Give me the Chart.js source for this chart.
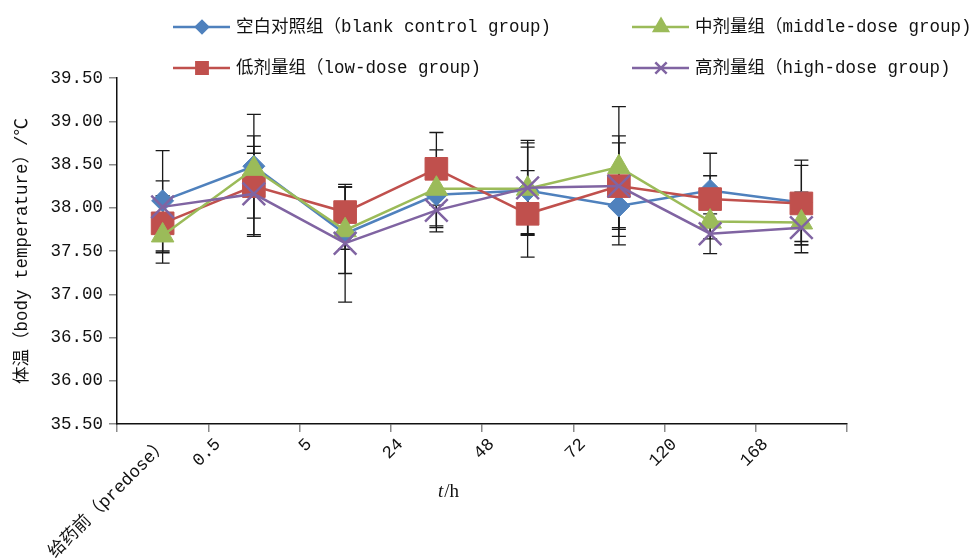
<!DOCTYPE html>
<html><head><meta charset="utf-8">
<script src="https://cdn.jsdelivr.net/npm/chart.js@4/dist/chart.umd.min.js"></script>
<style>html,body{margin:0;padding:0;background:#fff;}#wrap{position:relative;width:975px;height:560px;}</style>
</head><body><div id="wrap"><canvas id="c" width="975" height="560"></canvas></div>
<script>
// ---- data ----
const categories = ['给药前（predose）', '0.5', '5', '24', '48', '72', '120', '168'];
const seriesNames = ['空白对照组（blank control group)', '低剂量组（low-dose group)', '中剂量组（middle-dose group)', '高剂量组（high-dose group)'];
const blankMean = [38.08, 38.48, 37.70, 38.15, 38.20, 38.02, 38.20, 38.06];
const blankErr  = [0.23, 0.60, 0.18, 0.36, 0.50, 0.45, 0.43, 0.49];
const lowMean   = [37.82, 38.25, 37.95, 38.45, 37.93, 38.25, 38.10, 38.05];
const lowErr    = [0.32, 0.58, 0.29, 0.42, 0.50, 0.58, 0.27, 0.44];
const midMean   = [37.68, 38.45, 37.74, 38.22, 38.22, 38.47, 37.84, 37.83];
const midErr    = [0.20, 0.26, 0.50, 0.45, 0.53, 0.70, 0.20, 0.35];
const highMean  = [38.01, 38.16, 37.59, 37.97, 38.23, 38.25, 37.70, 37.77];
const highErr   = [0.65, 0.47, 0.68, 0.25, 0.55, 0.50, 0.23, 0.20];
const yTicks = { min: 35.5, max: 39.5, step: 0.5 };
const yTitle = '体温（body temperature）/℃';

// ---- styles ----
const FONT = '"Liberation Mono", "Noto Sans CJK SC", monospace';
const styles = [
  { color: '#4F81BD', pointStyle: 'rectRot', radius: 11, legendRadius: 6 },
  { color: '#C0504D', pointStyle: 'rect', radius: 16, legendRadius: 8 },
  { color: '#9BBB59', pointStyle: 'triangle', radius: 13, legendRadius: 8 },
  { color: '#8064A2', pointStyle: 'crossRot', radius: 16, legendRadius: 8 }
];
const means = [blankMean, lowMean, midMean, highMean];
const errs = [blankErr, lowErr, midErr, highErr];

const datasets = means.map((m, i) => ({
  label: seriesNames[i],
  data: m,
  errors: errs[i],
  borderColor: styles[i].color,
  backgroundColor: styles[i].color,
  borderWidth: 2.5,
  pointStyle: styles[i].pointStyle,
  pointRadius: styles[i].radius,
  pointHoverRadius: styles[i].radius,
  pointBackgroundColor: styles[i].color,
  pointBorderColor: styles[i].color,
  pointBorderWidth: styles[i].pointStyle === 'crossRot' ? 2.5 : 1,
  tension: 0,
  order: 4 - i
}));

const errorBars = {
  id: 'errorBars',
  beforeDatasetsDraw(chart) {
    const ctx = chart.ctx, ys = chart.scales.y;
    ctx.save();
    ctx.strokeStyle = '#1a1a1a';
    ctx.lineWidth = 1.3;
    chart.data.datasets.forEach((ds, di) => {
      const meta = chart.getDatasetMeta(di);
      meta.data.forEach((pt, i) => {
        const e = ds.errors[i];
        const v = ds.data[i];
        const y1 = ys.getPixelForValue(v + e), y2 = ys.getPixelForValue(v - e);
        const x = pt.x, cw = 7;
        ctx.beginPath();
        ctx.moveTo(x, y1); ctx.lineTo(x, y2);
        ctx.moveTo(x - cw, y1); ctx.lineTo(x + cw, y1);
        ctx.moveTo(x - cw, y2); ctx.lineTo(x + cw, y2);
        ctx.stroke();
      });
    });
    ctx.restore();
  }
};

const customLegend = {
  id: 'customLegend',
  afterDraw(chart) {
    const ctx = chart.ctx;
    const cols = [173, 632], rows = [27, 68];
    const pos = [[0, 0], [0, 1], [1, 0], [1, 1]];
    ctx.save();
    chart.data.datasets.forEach((ds, i) => {
      const x = cols[pos[i][0]], y = rows[pos[i][1]];
      ctx.strokeStyle = styles[i].color;
      ctx.lineWidth = 2.5;
      ctx.beginPath(); ctx.moveTo(x, y); ctx.lineTo(x + 57, y); ctx.stroke();
      ctx.fillStyle = styles[i].color;
      Chart.helpers.drawPoint(ctx, { pointStyle: styles[i].pointStyle, radius: styles[i].legendRadius, rotation: 0, borderWidth: styles[i].pointStyle === 'crossRot' ? 2 : 1 }, x + 29, y);
      ctx.fillStyle = '#111';
      ctx.font = '17.5px ' + FONT;
      ctx.textBaseline = 'middle';
      ctx.textAlign = 'left';
      ctx.fillText(ds.label, x + 63, y);
    });
    ctx.restore();
  }
};

const xTitle = {
  id: 'xTitle',
  afterDraw(chart) {
    const ctx = chart.ctx;
    ctx.save();
    ctx.fillStyle = '#111';
    ctx.textBaseline = 'alphabetic';
    ctx.textAlign = 'left';
    const x0 = 438, y0 = 497;
    ctx.font = 'italic 19px "Liberation Serif", serif';
    ctx.fillText('t', x0, y0);
    const w = ctx.measureText('t').width;
    ctx.font = '19px "Liberation Serif", serif';
    ctx.fillText('/h', x0 + w + 1, y0);
    ctx.restore();
  }
};

const shiftFirstLabel = {
  id: 'shiftFirstLabel',
  beforeDraw(chart) {
    const xs = chart.scales.x;
    if (xs && xs.getLabelItems) {
      const items = xs.getLabelItems(chart.chartArea);
      if (items && items[0] && items[0].options && items[0].options.translation && !items[0]._shifted) {
        items[0].options.translation[0] += 39;
        items[0]._shifted = true;
      }
    }
  }
};

new Chart(document.getElementById('c'), {
  type: 'line',
  data: { labels: categories, datasets },
  plugins: [errorBars, customLegend, xTitle, shiftFirstLabel],
  options: {
    responsive: false,
    devicePixelRatio: 1,
    animation: false,
    layout: { padding: { left: 0, top: 78, right: 128, bottom: 0 } },
    plugins: { legend: { display: false }, tooltip: { enabled: false } },
    scales: {
      x: {
        type: 'category',
        offset: true,
        grid: { offset: true, drawOnChartArea: false, drawTicks: true, tickLength: 8, color: '#8a8a8a', lineWidth: 1.5 },
        border: { display: true, color: '#111', width: 1.5 },
        ticks: { minRotation: 45, maxRotation: 45, autoSkip: false, labelOffset: -36, padding: 2, color: '#111', font: { family: FONT, size: 17.5 } },
        afterFit(s) { s.height = 136; }
      },
      y: {
        min: yTicks.min, max: yTicks.max,
        grid: { drawOnChartArea: false, drawTicks: true, tickLength: 8, color: '#8a8a8a', lineWidth: 1.5 },
        border: { display: true, color: '#111', width: 1.5 },
        ticks: { stepSize: yTicks.step, padding: 6, color: '#111', font: { family: FONT, size: 17.5 }, callback: v => Number(v).toFixed(2) },
        title: { display: true, text: yTitle, color: '#111', font: { family: FONT, size: 17.5 }, padding: { top: 12, bottom: 0 } },
        afterFit(s) { s.width = 117; }
      }
    }
  }
});
</script></body></html>
